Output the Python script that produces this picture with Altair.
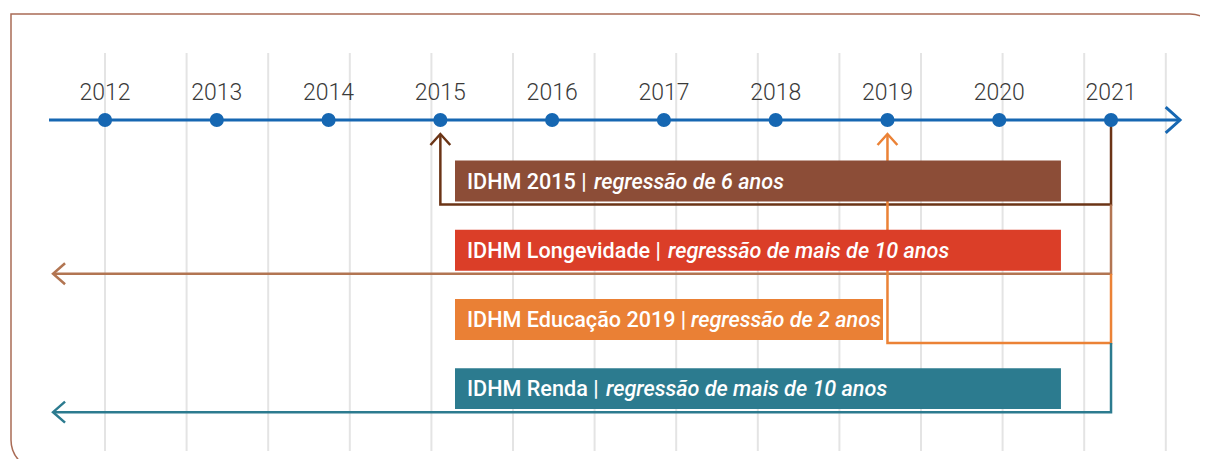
import altair as alt
import pandas as pd

# ---------------- data ----------------
years = list(range(2012, 2022))
year_labels = [str(y) for y in years]

indicators = ["IDHM 2015", "IDHM Longevidade", "IDHM Educação 2019", "IDHM Renda"]
regressions = ["regressão de 6 anos", "regressão de mais de 10 anos",
               "regressão de 2 anos", "regressão de mais de 10 anos"]
target_year = [2015, None, 2019, None]   # None -> beyond the start of the timeline
reference_year = 2021
box_colors = ["#8C4D37", "#DB3E28", "#EA8035", "#2C7B8F"]
line_colors = ["#6B3416", "#B27552", "#EB8236", "#2C7B8F"]
grid_index = list(range(14))

# ---------------- layout ----------------
W, H = 1192, 451
X_DOMAIN = [2011.132, 2021.796]
Y_DOMAIN = [-1.5, 5.017]
PPY = W / (X_DOMAIN[1] - X_DOMAIN[0])        # pixels per year
GRID_DOMAIN = [-1.1887, 13.419]
TIMELINE_ROW = 0.1185
TIMELINE_START = 2011.499
TIMELINE_END = 2021.617
LEFT_TIP = 2011.535
UP_TIP_ROW = 0.321
BOX_START = 2015.131
BOX_END = [2020.552, 2020.552, 2018.96, 2020.552]
BOX_HALF = 0.296
CONN_OFF = 0.34
TEXT_DX = 12
ITALIC_DX = [139, 213, 236, 151]
FONT = "Roboto"
LABEL_SIZE = 21.6

xs = alt.Scale(domain=X_DOMAIN, nice=False, zero=False)
ys = alt.Scale(domain=Y_DOMAIN, nice=False, zero=False, reverse=True)

def X(f="x"):
    return alt.X(f"{f}:Q", scale=xs, axis=None)

def Y(f="y"):
    return alt.Y(f"{f}:Q", scale=ys, axis=None)

# frame
frame = alt.Chart(alt.Data(values=[{"a": 1}])).mark_rect(
    filled=False, stroke="#A96B55", strokeWidth=1.5,
    cornerRadiusTopRight=28, cornerRadiusBottomLeft=30
).encode(x=alt.value(3), x2=alt.value(1210), y=alt.value(6), y2=alt.value(462))

# grid
grid = alt.Chart(pd.DataFrame({"g": grid_index})).mark_rule(
    color="#E4E4E4", strokeWidth=2
).encode(
    x=alt.X("g:Q", scale=alt.Scale(domain=GRID_DOMAIN, nice=False, zero=False), axis=None),
    y=alt.value(45), y2=alt.value(443)
)

# connectors
rows = []
prev_level = TIMELINE_ROW
for i, name in enumerate(indicators):
    level = i + 1 + CONN_OFF
    pts = [(reference_year, prev_level), (reference_year, level)]
    if target_year[i] is None:
        pts.append((LEFT_TIP, level))
    else:
        pts.append((target_year[i], level))
        pts.append((target_year[i], UP_TIP_ROW))
    for k, (px, py) in enumerate(pts):
        rows.append({"s": name, "o": k, "x": px, "y": py, "c": line_colors[i]})
    prev_level = level
conn_df = pd.DataFrame(rows)
connectors = alt.Chart(conn_df).mark_line(strokeWidth=2.5, strokeJoin="miter").encode(
    x=X(), y=Y(), detail="s:N", order="o:Q", color=alt.Color("c:N", scale=None)
)

# timeline
tl_df = pd.DataFrame({"x": [TIMELINE_START], "x2": [TIMELINE_END], "y": [TIMELINE_ROW]})
timeline = alt.Chart(tl_df).mark_rule(color="#1667B2", strokeWidth=3).encode(
    x=X(), x2="x2:Q", y=Y()
)
tl_arrow = alt.Chart(pd.DataFrame({"x": [TIMELINE_END], "y": [TIMELINE_ROW]})).mark_point(
    shape="M-1,-0.9L0,0L-1,0.9", size=818, filled=False, color="#1667B2",
    strokeWidth=3, opacity=1, strokeJoin="miter"
).encode(x=X(), y=Y())

year_df = pd.DataFrame({"x": years, "y": [TIMELINE_ROW] * len(years), "t": year_labels})
dots = alt.Chart(year_df).mark_point(filled=True, size=200, color="#1667B2", opacity=1).encode(
    x=X(), y=Y()
)
ylabels = alt.Chart(year_df).mark_text(
    font=FONT, fontSize=23, fontWeight=300, color="#3A3A3A", dy=-20,
    baseline="alphabetic", align="center"
).encode(x=X(), y=Y(), text="t:N")

# boxes and labels
box_df = pd.DataFrame({
    "x": [BOX_START] * 4,
    "x2": BOX_END,
    "y": [i + 1 - BOX_HALF for i in range(4)],
    "y2": [i + 1 + BOX_HALF for i in range(4)],
    "c": box_colors,
})
boxes = alt.Chart(box_df).mark_rect().encode(
    x=X(), x2="x2:Q", y=Y(), y2="y2:Q", color=alt.Color("c:N", scale=None)
)

lab_df = pd.DataFrame({
    "x": [BOX_START + TEXT_DX / PPY] * 4,
    "xi": [BOX_START + d / PPY for d in ITALIC_DX],
    "y": [i + 1 for i in range(4)],
    "t": [n + " |" for n in indicators],
    "r": regressions,
})
lab_reg = alt.Chart(lab_df).mark_text(
    font=FONT, fontSize=LABEL_SIZE, fontWeight=500, color="white", align="left",
    baseline="alphabetic", dy=7.5
).encode(x=X(), y=Y(), text="t:N")
lab_it = alt.Chart(lab_df).mark_text(
    font=FONT, fontSize=LABEL_SIZE, fontWeight=500, fontStyle="italic", color="white",
    align="left", baseline="alphabetic", dy=7.5
).encode(x=X("xi"), y=Y(), text="r:N")

# arrow heads
left_df = pd.DataFrame([{"x": LEFT_TIP, "y": i + 1 + CONN_OFF, "c": line_colors[i]}
                        for i in range(4) if target_year[i] is None])
left_arrows = alt.Chart(left_df).mark_point(
    shape="M1,-0.875L0,0L1,0.875", size=576, filled=False, strokeWidth=2.5,
    opacity=1, strokeJoin="miter"
).encode(x=X(), y=Y(), color=alt.Color("c:N", scale=None))

up_df = pd.DataFrame([{"x": target_year[i], "y": UP_TIP_ROW, "c": line_colors[i]}
                      for i in range(4) if target_year[i] is not None])
up_arrows = alt.Chart(up_df).mark_point(
    shape="M-0.9,1L0,0L0.9,1", size=484, filled=False, strokeWidth=2.5,
    opacity=1, strokeJoin="miter"
).encode(x=X(), y=Y(), color=alt.Color("c:N", scale=None))

chart = alt.layer(
    frame, grid, connectors, timeline, tl_arrow, up_arrows, dots, ylabels,
    boxes, lab_reg, lab_it, left_arrows
).resolve_scale(x="independent").properties(
    width=W, height=H, padding=0, autosize=alt.AutoSizeParams(type="none")
).configure_view(stroke=None)

chart.save("out.html", embed_options={"renderer": "svg", "actions": False})
